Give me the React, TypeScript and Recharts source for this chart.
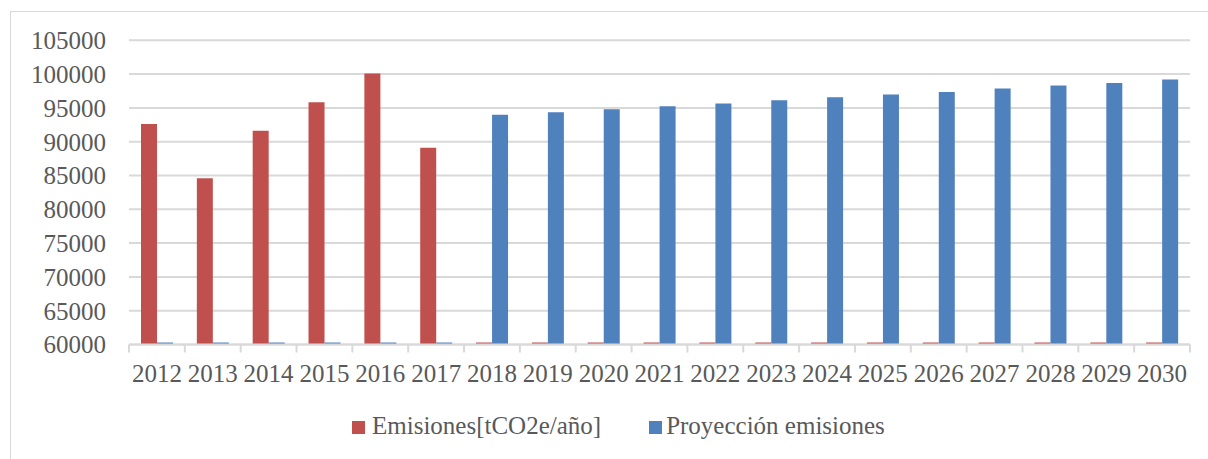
import React from 'react';
import { BarChart, Bar, XAxis, YAxis, CartesianGrid, Legend, Rectangle } from 'recharts';

const years = [
  '2012', '2013', '2014', '2015', '2016', '2017', '2018', '2019', '2020', '2021',
  '2022', '2023', '2024', '2025', '2026', '2027', '2028', '2029', '2030',
];
const emisiones = [92600, 84600, 91630, 95840, 100100, 89110, 0, 0, 0, 0, 0, 0, 0, 0, 0, 0, 0, 0, 0];
const proyeccion = [0, 0, 0, 0, 0, 0, 93970, 94360, 94800, 95250, 95640, 96140, 96580, 96970, 97370, 97860, 98300, 98700, 99190];
const yTicks = [60000, 65000, 70000, 75000, 80000, 85000, 90000, 95000, 100000, 105000];

const RED = '#C0504D';
const BLUE = '#4F81BD';
const TEXT = '#595959';
const GRID = '#D9D9D9';
const FONT = '"Liberation Serif", serif';

const data = years.map((y, i) => ({ year: y, emisiones: emisiones[i], proyeccion: proyeccion[i] }));

const PLOT_LEFT = 129;
const PLOT_RIGHT = 1190;
const PLOT_BOTTOM = 344.5;
const STEP = (PLOT_RIGHT - PLOT_LEFT) / years.length;

// zero values sit below the axis minimum; Excel shows them as a thin stub on the axis
function stubShape(key: 'emisiones' | 'proyeccion', color: string) {
  return (props: any) => {
    const v = props.payload?.[key];
    if (!v) {
      const base = props.background ? props.background.y + props.background.height : PLOT_BOTTOM;
      return <rect x={props.x} y={base - 2} width={props.width} height={2} fill={color} />;
    }
    return <Rectangle {...props} fill={color} />;
  };
}

function YearTick(props: any) {
  const { x, y, payload, index } = props;
  const axisY = y - 20;
  return (
    <g>
      <line x1={x - STEP / 2} x2={x - STEP / 2} y1={axisY} y2={axisY + 8} stroke={GRID} strokeWidth={2} />
      {index === years.length - 1 && (
        <line x1={x + STEP / 2} x2={x + STEP / 2} y1={axisY} y2={axisY + 8} stroke={GRID} strokeWidth={2} />
      )}
      <text x={x} y={y} dy="0.71em" textAnchor="middle" fill={TEXT} fontSize={25} fontFamily={FONT}>
        {payload.value}
      </text>
    </g>
  );
}

function LegendContent() {
  const items = [
    { label: 'Emisiones[tCO2e/año]', color: RED },
    { label: 'Proyección emisiones', color: BLUE },
  ];
  return (
    <div style={{ display: 'flex', alignItems: 'center', fontFamily: FONT, fontSize: 25, lineHeight: '28px', color: TEXT }}>
      {items.map((it, i) => (
        <div key={it.label} style={{ display: 'flex', alignItems: 'center', marginLeft: i === 0 ? 0 : 48 }}>
          <span style={{ display: 'inline-block', width: 13, height: 13, background: it.color, marginRight: i === 0 ? 7 : 4, marginTop: 3 }} />
          <span style={{ whiteSpace: 'nowrap' }}>{it.label}</span>
        </div>
      ))}
    </div>
  );
}

export default function App() {
  return (
    <div style={{ position: 'absolute', left: 0, top: 0, width: 1208, height: 459, overflow: 'hidden', background: '#fff' }}>
      <div
        style={{
          position: 'absolute', left: 10, top: 11, width: 1300, height: 500,
          borderLeft: `1px solid ${GRID}`, borderTop: `1px solid ${GRID}`, boxSizing: 'border-box',
        }}
      />
      <div style={{ position: 'absolute', left: 0, top: 0 }}>
        <BarChart
          width={1208}
          height={459}
          data={data}
          margin={{ top: 40.3, right: 1208 - PLOT_RIGHT, bottom: 459 - PLOT_BOTTOM - 30, left: 0 }}
          barGap={0}
          barSize={16}
        >
          <CartesianGrid vertical={false} stroke={GRID} strokeWidth={2} />
          <XAxis
            dataKey="year"
            height={30}
            axisLine={{ stroke: GRID, strokeWidth: 2 }}
            tickLine={false}
            tickSize={0}
            tickMargin={20}
            interval={0}
            tick={<YearTick />}
          />
          <YAxis
            width={PLOT_LEFT}
            domain={[60000, 105000]}
            ticks={yTicks}
            allowDataOverflow
            axisLine={false}
            tickLine={false}
            tickSize={0}
            tickMargin={23}
            tick={{ fill: TEXT, fontSize: 25, fontFamily: FONT }}
          />
          <Legend
            layout="horizontal"
            align="center"
            verticalAlign="middle"
            content={<LegendContent />}
            wrapperStyle={{ left: 352, top: 412, width: 600, height: 28 }}
          />
          <Bar dataKey="emisiones" name="Emisiones[tCO2e/año]" fill={RED} shape={stubShape('emisiones', RED)} isAnimationActive={false} />
          <Bar dataKey="proyeccion" name="Proyección emisiones" fill={BLUE} shape={stubShape('proyeccion', BLUE)} isAnimationActive={false} />
        </BarChart>
      </div>
    </div>
  );
}
